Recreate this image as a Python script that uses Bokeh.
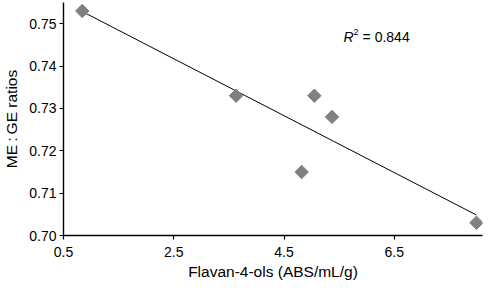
import numpy as np
from bokeh.plotting import figure
from bokeh.models import Range1d, FixedTicker, Label, NumeralTickFormatter
from bokeh.embed import file_html
from bokeh.resources import INLINE

# Data
flavan = [0.84, 3.63, 5.05, 5.37, 4.82, 7.99]
me_ge = [0.753, 0.733, 0.733, 0.728, 0.715, 0.703]
x_ticks = [0.5, 2.5, 4.5, 6.5]
y_ticks = [0.70, 0.71, 0.72, 0.73, 0.74, 0.75]
r2_value = "= 0.844"

FONT = "Liberation Sans"

p = figure(width=484, height=282, output_backend="svg", toolbar_location=None,
           x_range=Range1d(0.5, 8.1), y_range=Range1d(0.70, 0.755),
           min_border_left=60, min_border_right=2, min_border_top=2, min_border_bottom=0)
p.outline_line_color = None
p.grid.visible = False

# trend line (least squares fit of the data)
slope, intercept = np.polyfit(flavan, me_ge, 1)
xf = [min(flavan), max(flavan)]
yf = [slope * v + intercept for v in xf]
p.line(xf, yf, line_color="black", line_width=1)

p.scatter(flavan, me_ge, marker="square", angle=np.pi / 4, size=9.5,
          fill_color="#808080", line_color="#808080")

for ax in (p.xaxis[0], p.yaxis[0]):
    ax.axis_line_color = "black"
    ax.axis_line_width = 1.4
    ax.major_tick_line_color = "black"
    ax.major_tick_line_width = 1.2
    ax.major_tick_in = 0
    ax.major_tick_out = 4
    ax.minor_tick_line_color = None
    ax.major_label_text_font = FONT
    ax.major_label_text_font_size = "14px"
    ax.major_label_text_color = "black"
    ax.axis_label_text_font = FONT
    ax.axis_label_text_font_size = "15.5px"
    ax.axis_label_text_font_style = "normal"
    ax.axis_label_text_color = "black"

p.xaxis.ticker = FixedTicker(ticks=x_ticks)
p.yaxis.ticker = FixedTicker(ticks=y_ticks)
p.xaxis.formatter = NumeralTickFormatter(format="0.0")
p.yaxis.formatter = NumeralTickFormatter(format="0.00")
p.xaxis.axis_label = "Flavan-4-ols (ABS/mL/g)"
p.yaxis.axis_label = "ME\u2009:\u2009GE ratios"
p.xaxis.major_label_standoff = 7
p.xaxis.axis_label_standoff = 3
p.yaxis.major_label_standoff = 3
p.yaxis.axis_label_standoff = 6

lx, ly = 5.58, 0.7468
p.add_layout(Label(x=lx, y=ly, text="R", text_baseline="middle",
                   text_font=FONT, text_font_style="italic", text_font_size="14px",
                   text_color="black"))
p.add_layout(Label(x=lx, y=ly, x_offset=10, y_offset=5, text="2", text_baseline="middle",
                   text_font=FONT, text_font_size="9px", text_color="black"))
p.add_layout(Label(x=lx, y=ly, x_offset=19, text=r2_value, text_baseline="middle",
                   text_font=FONT, text_font_size="14px", text_color="black"))

open("out.html", "w").write(file_html(p, INLINE))
